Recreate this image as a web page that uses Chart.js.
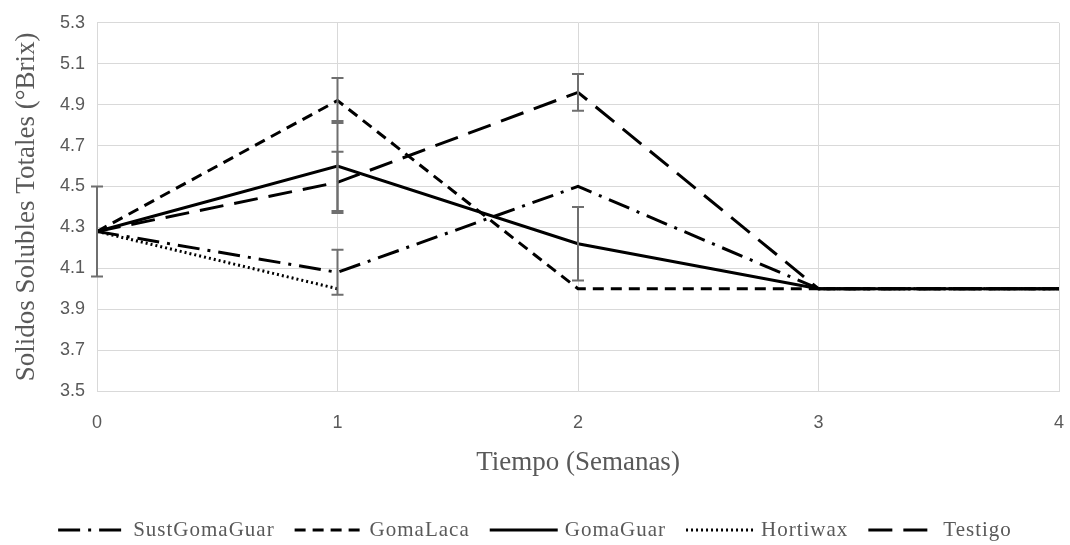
<!DOCTYPE html>
<html>
<head>
<meta charset="utf-8">
<script src="https://cdn.jsdelivr.net/npm/chart.js@4.4.1/dist/chart.umd.min.js"></script>
<style>
  html, body { margin: 0; padding: 0; background: #fff; }
  #wrap { width: 1070px; height: 545px; position: relative; }
</style>
</head>
<body>
<div id="wrap"><canvas id="c" width="1070" height="545"></canvas></div>
<script>
// Semanas de almacenamiento
const weeks = ['0', '1', '2', '3', '4'];

// Sólidos solubles totales (°Brix) por tratamiento
const sustGomaGuar = [4.28, 4.08, 4.50, 4.00, 4.00];
const gomaLaca     = [4.28, 4.92, 4.00, 4.00, 4.00];
const gomaGuar     = [4.28, 4.60, 4.22, 4.00, 4.00];
const hortiwax     = [4.28, 4.00, null, 4.00, 4.00];
const testigo      = [4.28, 4.52, 4.96, 4.00, 4.00];

// Desviaciones (barras de error) por tratamiento
const errSustGomaGuar = [0, 0.11, 0, 0, 0];
const errGomaLaca     = [0, 0.11, 0, 0, 0];
const errGomaGuar     = [0.22, 0.22, 0.18, 0, 0];
const errHortiwax     = [0, 0, 0, 0, 0];
const errTestigo      = [0, 0.15, 0.09, 0, 0];

const yTicks = [3.5, 3.7, 3.9, 4.1, 4.3, 4.5, 4.7, 4.9, 5.1, 5.3];

const serif = '"Liberation Serif", "Times New Roman", serif';
const sans = '"Liberation Sans", Arial, sans-serif';

function series(label, data, errors, dash) {
  return {
    label, data, errors,
    borderColor: '#000', backgroundColor: '#000',
    borderWidth: 3, borderDash: dash,
    pointRadius: 0, pointHoverRadius: 0,
    tension: 0, spanGaps: false
  };
}

const datasets = [
  series('SustGomaGuar', sustGomaGuar, errSustGomaGuar, [22, 8, 3, 8]),
  series('GomaLaca', gomaLaca, errGomaLaca, [11, 7]),
  series('GomaGuar', gomaGuar, errGomaGuar, []),
  series('Hortiwax', hortiwax, errHortiwax, [2, 3]),
  series('Testigo', testigo, errTestigo, [24, 11])
];

// Barras de error verticales con remates horizontales
const errorBars = {
  id: 'errorBars',
  afterDatasetsDraw(chart) {
    const { ctx, scales: { x, y } } = chart;
    ctx.save();
    ctx.strokeStyle = '#6f6f6f';
    ctx.lineWidth = 2;
    ctx.setLineDash([]);
    chart.data.datasets.forEach(ds => {
      ds.data.forEach((v, i) => {
        const e = ds.errors[i];
        if (v === null || !e) return;
        const px = x.getPixelForValue(i);
        const top = y.getPixelForValue(v + e);
        const bot = y.getPixelForValue(v - e);
        ctx.beginPath();
        ctx.moveTo(px, top); ctx.lineTo(px, bot);
        ctx.moveTo(px - 6, top); ctx.lineTo(px + 6, top);
        ctx.moveTo(px - 6, bot); ctx.lineTo(px + 6, bot);
        ctx.stroke();
      });
    });
    ctx.restore();
  }
};

// Leyenda inferior con muestras de trazo discontinuo
const lineLegend = {
  id: 'lineLegend',
  afterDraw(chart) {
    const { ctx } = chart;
    const sample = 68, gapText = 7, gapItem = 20;
    const cy = 530;
    ctx.save();
    ctx.font = '21px ' + serif;
    if ('letterSpacing' in ctx) ctx.letterSpacing = '1px';
    const items = chart.data.datasets.map(ds => ({ ds, w: ctx.measureText(ds.label).width }));
    const total = items.reduce((s, it) => s + sample + gapText + it.w, 0) + gapItem * (items.length - 1);
    let xPos = (chart.width - total) / 2;
    items.forEach(it => {
      ctx.strokeStyle = '#000';
      ctx.lineWidth = 3;
      ctx.setLineDash(it.ds.borderDash);
      ctx.beginPath();
      ctx.moveTo(xPos, cy); ctx.lineTo(xPos + sample, cy);
      ctx.stroke();
      ctx.setLineDash([]);
      xPos += sample + gapText;
      ctx.fillStyle = '#595959';
      ctx.textBaseline = 'middle';
      ctx.textAlign = 'left';
      ctx.fillText(it.ds.label, xPos, cy);
      xPos += it.w + gapItem;
    });
    ctx.restore();
  }
};

new Chart(document.getElementById('c'), {
  type: 'line',
  data: { labels: weeks, datasets },
  options: {
    responsive: false,
    animation: false,
    events: [],
    layout: { padding: { top: 17, right: 11, bottom: 64, left: 0 } },
    plugins: { legend: { display: false }, tooltip: { enabled: false } },
    scales: {
      x: {
        offset: false,
        grid: { color: '#d9d9d9', lineWidth: 1, drawTicks: false },
        border: { color: '#d9d9d9' },
        ticks: { color: '#595959', font: { family: sans, size: 18 }, padding: 21, maxRotation: 0 },
        title: { display: true, text: 'Tiempo (Semanas)', color: '#595959',
                 font: { family: serif, size: 27 }, padding: { top: 0, bottom: 2 } },
        afterFit(scale) { scale.height = 90; scale.paddingLeft = 0; scale.paddingRight = 0; }
      },
      y: {
        min: 3.5, max: 5.3,
        afterBuildTicks(scale) { scale.ticks = yTicks.map(v => ({ value: v })); },
        grid: { color: '#d9d9d9', lineWidth: 1, drawTicks: false },
        border: { color: '#d9d9d9' },
        ticks: { color: '#595959', font: { family: sans, size: 18 }, padding: 12,
                 callback: v => v.toFixed(1) },
        title: { display: true, text: 'Solidos Solubles Totales (°Brix)', color: '#595959',
                 font: { family: serif, size: 27 }, padding: { top: 11, bottom: 0 } },
        afterFit(scale) { scale.width = 97; }
      }
    }
  },
  plugins: [errorBars, lineLegend]
});
</script>
</body>
</html>
